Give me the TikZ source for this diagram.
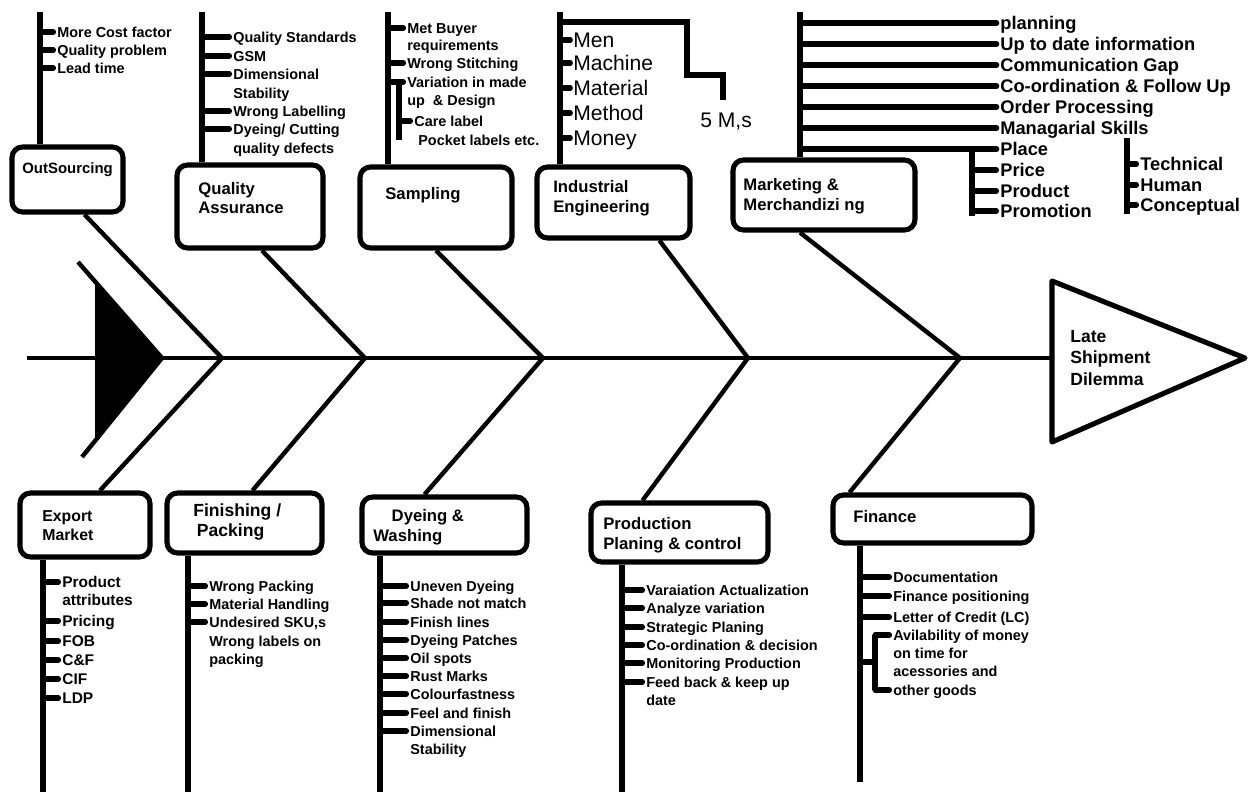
\documentclass[tikz,border=0pt]{standalone}
\usepackage{fontspec}
\setmainfont{Liberation Sans}
\usetikzlibrary{fit}

\begin{document}
\begin{tikzpicture}[x=0.02cm, y=-0.02cm,
    catbox/.style={draw, line width=2.9pt, rounded corners=6pt, inner sep=0pt},
    cattext/.style={anchor=west, align=left, inner sep=0pt, font=\fontsize{9.5}{11.2}\selectfont\bfseries},
    cause/.style={anchor=west, inner sep=0pt, text height=5.9pt, text depth=0pt, font=\fontsize{8.2}{10}\selectfont\bfseries},
    bigcause/.style={cause, text height=7.5pt, font=\fontsize{10.4}{12}\selectfont\bfseries},
    mcause/.style={cause, text height=8.6pt, font=\fontsize{12}{14}\selectfont},
    bone/.style={line width=2.9pt},
    rib/.style={line width=2.5pt},
    twig/.style={line width=2.9pt, line cap=round},
  ]
    % Canvas
    \fill[white] (0,0) rectangle (1249,794);
    \useasboundingbox (0,0) rectangle (1249,794);

    % Spine, tail and head
    \coordinate (tail) at (27,358);
    \coordinate (headL) at (1052,358);
    \draw[rib] (tail) -- (headL);
    \draw[rib, line join=round] (78,262) -- (162,358) -- (82,457);
    \fill (95,281) -- (162,358) -- (95,441) -- cycle;
    \draw[bone, line join=round] (1052,281) -- (1245,358) -- (1052,442) -- cycle;
    \node[cattext, font=\fontsize{10}{12.4}\selectfont\bfseries] (effect) at (1070,358) {Late\\Shipment\\Dilemma};

    % Junctions on the spine
    \coordinate (j1) at (222,358);
    \coordinate (j2) at (365,358);
    \coordinate (j3) at (543,358);
    \coordinate (j4) at (748,358);
    \coordinate (j5) at (960,358);

    % OutSourcing
    \node[catbox, fit={(12,147) (123,212)}] (os) {};
    \node[cattext, font=\fontsize{8.5}{10}\selectfont\bfseries] (osName) at (22,170) {OutSourcing};
    \coordinate (osTop) at (40,12);
    \draw[bone] (osTop) -- (osTop |- os.north);
    \node[cause] (os1) at (57,32) {More Cost factor};
    \node[cause] (os2) at (57,50) {Quality problem};
    \node[cause] (os3) at (57,68) {Lead time};
    \foreach \i in {1,2,3}
        \draw[twig] (osTop |- os\i.west) -- ([xshift=-2pt]os\i.west);
    \draw[rib] (os.south) ++(17,0) -- (j1);

    % Quality Assurance
    \node[catbox, fit={(177,165) (323,248)}] (qa) {};
    \node[cattext] (qaName) at (198,198) {Quality\\Assurance};
    \coordinate (qaTop) at (202,12);
    \draw[bone] (qaTop) -- (qaTop |- qa.north);
    \node[cause] (qa1) at (233,37) {Quality Standards};
    \node[cause] (qa2) at (233,56) {GSM};
    \node[cause] (qa3) at (233,74) {Dimensional};
    \node[cause] (qa3b) at (233,93) {Stability};
    \node[cause] (qa4) at (233,111) {Wrong Labelling};
    \node[cause] (qa5) at (233,129) {Dyeing/ Cutting};
    \node[cause] (qa5b) at (233,148) {quality defects};
    \foreach \i in {1,...,5}
        \draw[twig] (qaTop |- qa\i.west) -- ([xshift=-2pt]qa\i.west);
    \draw[rib] (qa.south) ++(12,0) -- (j2);

    % Sampling
    \node[catbox, fit={(360,167) (512,248)}] (sm) {};
    \node[cattext] (smName) at (385,195) {Sampling};
    \coordinate (smTop) at (388,12);
    \draw[bone] (smTop) -- (smTop |- sm.north);
    \node[cause] (sm1) at (407,28) {Met Buyer};
    \node[cause] (sm1b) at (407,45) {requirements};
    \node[cause] (sm2) at (407,63) {Wrong Stitching};
    \node[cause] (sm3) at (407,82) {Variation in made};
    \node[cause] (sm3b) at (407,100) {up\ \ \& Design};
    \node[cause] (sm4) at (414,121) {Care label};
    \node[cause] (sm4b) at (418,140) {Pocket labels etc.};
    \foreach \i in {1,2,3}
        \draw[twig] (smTop |- sm\i.west) -- ([xshift=-2pt]sm\i.west);
    \coordinate (smSub) at (399,82);
    \coordinate (smSubEnd) at (399,140);
    \draw[bone] (smSub) -- (smSubEnd);
    \draw[twig] (smSub |- sm4.west) -- ([xshift=-2pt]sm4.west);
    \draw[rib] (sm.south) -- (j3);

    % Industrial Engineering
    \node[catbox, fit={(537,167) (690,238)}] (ie) {};
    \node[cattext] (ieName) at (553,198) {Industrial\\Engineering};
    \coordinate (ieTop) at (560,12);
    \draw[bone] (ieTop) -- (ieTop |- ie.north);
    \draw[bone] (560,22) -| (687,75) -| (723,100);
    \node[mcause] (ieM) at (700,120) {5 M,s};
    \node[mcause] (ie1) at (573,40) {Men};
    \node[mcause] (ie2) at (573,63) {Machine};
    \node[mcause] (ie3) at (573,88) {Material};
    \node[mcause] (ie4) at (573,113) {Method};
    \node[mcause] (ie5) at (573,138) {Money};
    \foreach \i in {1,...,5}
        \draw[twig] (ieTop |- ie\i.west) -- ([xshift=-1.5pt]ie\i.west);
    \draw[rib] (ie.south) ++(46,0) -- (j4);

    % Marketing & Merchandizing
    \node[catbox, fit={(733,160) (915,230)}] (mm) {};
    \node[cattext] (mmName) at (743,196) {Marketing \&\\Merchandizi ng};
    \coordinate (mmTop) at (800,12);
    \draw[bone] (mmTop) -- (mmTop |- mm.north);
    \node[bigcause] (mm1) at (1000,23) {planning};
    \node[bigcause] (mm2) at (1000,44) {Up to date information};
    \node[bigcause] (mm3) at (1000,65) {Communication Gap};
    \node[bigcause] (mm4) at (1000,86) {Co-ordination \& Follow Up};
    \node[bigcause] (mm5) at (1000,107) {Order Processing};
    \node[bigcause] (mm6) at (1000,128) {Managarial Skills};
    \node[bigcause] (mm7) at (1000,149) {Place};
    \foreach \i in {1,...,7}
        \draw[twig, line width=3.2pt] (mmTop |- mm\i.west) -- ([xshift=-2pt]mm\i.west);
    \coordinate (mmSub) at (972,149);
    \coordinate (mmSubEnd) at (972,216);
    \draw[bone] (mmSub) -- (mmSubEnd);
    \node[bigcause] (mm8) at (1000,170) {Price};
    \node[bigcause] (mm9) at (1000,191) {Product};
    \node[bigcause] (mm10) at (1000,211) {Promotion};
    \foreach \i in {8,9,10}
        \draw[twig] (mmSub |- mm\i.west) -- ([xshift=-2pt]mm\i.west);
    \coordinate (skTop) at (1127,138);
    \coordinate (skEnd) at (1127,214);
    \draw[bone] (skTop) -- (skEnd);
    \node[bigcause] (sk1) at (1140,164) {Technical};
    \node[bigcause] (sk2) at (1140,185) {Human};
    \node[bigcause] (sk3) at (1140,205) {Conceptual};
    \foreach \i in {1,2,3}
        \draw[twig] (skTop |- sk\i.west) -- ([xshift=-2pt]sk\i.west);
    \draw[rib] (mm.south) ++(-24,0) -- (j5);

    % Export Market
    \node[catbox, fit={(20,493) (150,557)}] (em) {};
    \node[cattext, font=\fontsize{9}{10.8}\selectfont\bfseries] (emName) at (42,526) {Export\\Market};
    \coordinate (emBot) at (43,792);
    \draw[bone] (em.south -| emBot) -- (emBot);
    \node[cause, font=\fontsize{8.8}{10}\selectfont\bfseries] (em1) at (62,582) {Product};
    \node[cause, font=\fontsize{8.8}{10}\selectfont\bfseries] (em1b) at (62,600) {attributes};
    \node[cause, font=\fontsize{8.8}{10}\selectfont\bfseries] (em2) at (62,621) {Pricing};
    \node[cause, font=\fontsize{8.8}{10}\selectfont\bfseries] (em3) at (62,641) {FOB};
    \node[cause, font=\fontsize{8.8}{10}\selectfont\bfseries] (em4) at (62,660) {C\&F};
    \node[cause, font=\fontsize{8.8}{10}\selectfont\bfseries] (em5) at (62,679) {CIF};
    \node[cause, font=\fontsize{8.8}{10}\selectfont\bfseries] (em6) at (62,698) {LDP};
    \foreach \i in {1,...,6}
        \draw[twig] (emBot |- em\i.west) -- ([xshift=-2pt]em\i.west);
    \draw[rib] (em.north) ++(15,0) -- (j1);

    % Finishing / Packing
    \node[catbox, fit={(167,493) (322,553)}] (fp) {};
    \node[cattext, font=\fontsize{10}{11.2}\selectfont\bfseries] (fpName) at (193,522) {Finishing /\\\hspace*{2pt}Packing};
    \coordinate (fpBot) at (188,792);
    \draw[bone] (fp.south -| fpBot) -- (fpBot);
    \node[cause] (fp1) at (209,586) {Wrong Packing};
    \node[cause] (fp2) at (209,604) {Material Handling};
    \node[cause] (fp3) at (209,622) {Undesired SKU,s};
    \node[cause] (fp3b) at (209,641) {Wrong labels on};
    \node[cause] (fp3c) at (209,659) {packing};
    \foreach \i in {1,2,3}
        \draw[twig] (fpBot |- fp\i.west) -- ([xshift=-2pt]fp\i.west);
    \draw[rib] (fp.north) ++(8,0) -- (j2);

    % Dyeing & Washing
    \node[catbox, fit={(362,497) (527,553)}] (dw) {};
    \node[cattext] (dwName) at (373,527) {\hspace*{1.1em}Dyeing \&\\Washing};
    \coordinate (dwBot) at (380,792);
    \draw[bone] (dw.south -| dwBot) -- (dwBot);
    \node[cause] (dw1) at (410,586) {Uneven Dyeing};
    \node[cause] (dw2) at (410,603) {Shade not match};
    \node[cause] (dw3) at (410,622) {Finish lines};
    \node[cause] (dw4) at (410,640) {Dyeing Patches};
    \node[cause] (dw5) at (410,658) {Oil spots};
    \node[cause] (dw6) at (410,676) {Rust Marks};
    \node[cause] (dw7) at (410,694) {Colourfastness};
    \node[cause] (dw8) at (410,713) {Feel and finish};
    \node[cause] (dw9) at (410,731) {Dimensional};
    \node[cause] (dw9b) at (410,749) {Stability};
    \foreach \i in {1,...,9}
        \draw[twig] (dwBot |- dw\i.west) -- ([xshift=-2pt]dw\i.west);
    \draw[rib] (dw.north) ++(-20,0) -- (j3);

    % Production Planing & control
    \node[catbox, fit={(591,503) (768,562)}] (pp) {};
    \node[cattext] (ppName) at (603,535) {Production\\Planing \& control};
    \coordinate (ppBot) at (622,792);
    \draw[bone] (pp.south -| ppBot) -- (ppBot);
    \node[cause] (pp1) at (646,590) {Varaiation Actualization};
    \node[cause] (pp2) at (646,608) {Analyze variation};
    \node[cause] (pp3) at (646,627) {Strategic Planing};
    \node[cause] (pp4) at (646,645) {Co-ordination \& decision};
    \node[cause] (pp5) at (646,663) {Monitoring Production};
    \node[cause] (pp6) at (646,682) {Feed back \& keep up};
    \node[cause] (pp6b) at (646,700) {date};
    \foreach \i in {1,...,6}
        \draw[twig] (ppBot |- pp\i.west) -- ([xshift=-2pt]pp\i.west);
    \draw[rib] (pp.north) ++(-37,0) -- (j4);

    % Finance
    \node[catbox, fit={(833,495) (1032,543)}] (fn) {};
    \node[cattext] (fnName) at (853,517) {Finance};
    \coordinate (fnBot) at (860,782);
    \draw[bone] (fn.south -| fnBot) -- (fnBot);
    \node[cause] (fn1) at (893,577) {Documentation};
    \node[cause] (fn2) at (893,596) {Finance positioning};
    \node[cause] (fn3) at (893,617) {Letter of Credit (LC)};
    \node[cause] (fn4) at (893,635) {Avilability of money};
    \node[cause] (fn4b) at (893,653) {on time for};
    \node[cause] (fn4c) at (893,671) {acessories and};
    \node[cause] (fn4d) at (893,690) {other goods};
    \foreach \i in {1,2,3}
        \draw[twig] (fnBot |- fn\i.west) -- ([xshift=-2pt]fn\i.west);
    \coordinate (fnSub) at (875,635);
    \coordinate (fnSubEnd) at (875,690);
    \coordinate (fnMid) at (875,662);
    \draw[bone] (fnSub) -- (fnSubEnd);
    \draw[bone] (fnBot |- fnMid) -- (fnMid);
    \draw[twig] (fnSub |- fn4.west) -- ([xshift=-2pt]fn4.west);
    \draw[twig] (fnSub |- fn4d.west) -- ([xshift=-2pt]fn4d.west);
    \draw[rib] (fn.north) ++(-83,0) -- (j5);
\end{tikzpicture}
\end{document}
